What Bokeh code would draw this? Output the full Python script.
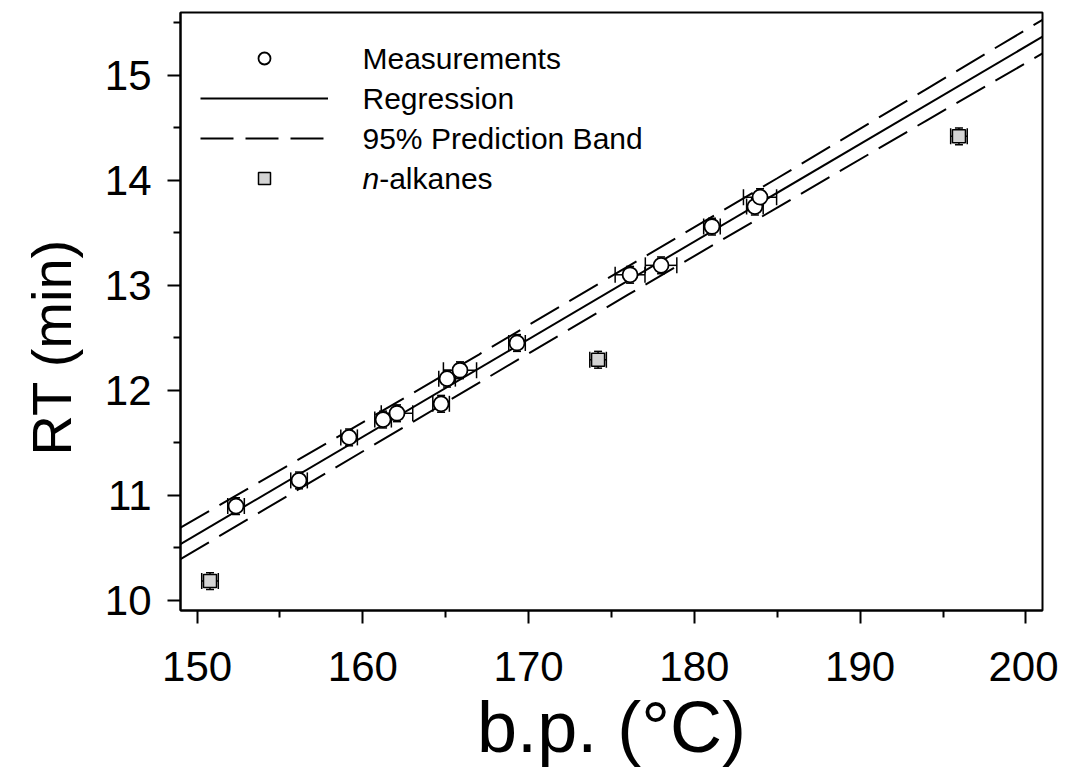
from bokeh.plotting import figure
from bokeh.models import (ColumnDataSource, Whisker, TeeHead, FixedTicker, Legend,
                          LegendItem, Label, Range1d, Title)
from bokeh.embed import file_html
from bokeh.resources import INLINE

# ---- data ----
meas_bp = [152.35, 156.15, 159.17, 161.22, 162.06, 164.72, 165.08, 165.86, 169.30,
           176.12, 177.99, 181.06, 183.65, 183.96]
meas_rt = [10.895, 11.14, 11.55, 11.72, 11.78, 11.87, 12.11, 12.19, 12.45,
           13.10, 13.19, 13.56, 13.75, 13.84]
meas_bp_err = [0.5, 0.5, 0.5, 0.5, 0.95, 0.5, 0.5, 1.0, 0.5, 0.9, 0.95, 0.5, 0.5, 1.0]
meas_rt_err = [0.08] * 14

alk_bp = [150.78, 174.19, 195.96]
alk_rt = [10.18, 12.29, 14.42]
alk_bp_err = [0.5, 0.5, 0.5]
alk_rt_err = [0.08, 0.08, 0.08]

reg_bp = [149.0, 201.0]
reg_rt = [10.533, 15.37]

band_bp = [149, 158, 167, 176, 185, 194, 201]
band_upper = [10.69, 11.51, 12.34, 13.18, 14.02, 14.87, 15.53]
band_lower = [10.39, 11.23, 12.07, 12.91, 13.74, 14.57, 15.21]

x_ticks = [150, 160, 170, 180, 190, 200]
x_minor = [155, 165, 175, 185, 195]
y_ticks = [10, 11, 12, 13, 14, 15]
y_minor = [10.5, 11.5, 12.5, 13.5, 14.5, 15.5]

FONT = "Liberation Sans"

p = figure(frame_width=862, frame_height=598,
           x_range=Range1d(149, 201), y_range=Range1d(9.9, 15.6),
           output_backend="svg", toolbar_location=None,
           min_border_left=180, min_border_right=16, min_border_top=12, min_border_bottom=160)
p.background_fill_color = "white"
p.border_fill_color = "white"
p.outline_line_color = "black"
p.outline_line_width = 2
p.xgrid.visible = False
p.ygrid.visible = False

for ax in (p.xaxis[0], p.yaxis[0]):
    ax.axis_line_width = 2
    ax.major_tick_line_width = 2
    ax.minor_tick_line_width = 2
    ax.major_tick_in = 0
    ax.major_tick_out = 13
    ax.minor_tick_in = 0
    ax.minor_tick_out = 7
    ax.major_label_text_font = FONT
    ax.major_label_text_font_size = "42px"
    ax.major_label_text_color = "black"
    ax.axis_label_text_font = FONT
    ax.axis_label_text_font_style = "normal"
    ax.axis_label_text_color = "black"

p.xaxis[0].ticker = FixedTicker(ticks=x_ticks, minor_ticks=x_minor)
p.yaxis[0].ticker = FixedTicker(ticks=y_ticks, minor_ticks=y_minor)
p.xaxis[0].axis_label = "b.p. (°C)"
p.xaxis[0].axis_label_text_font_size = "72px"
p.xaxis[0].major_label_standoff = 28
p.yaxis[0].major_label_standoff = 16
p.xaxis[0].axis_label_standoff = 3

# y-axis title (placed like the original: a bit below the frame centre)
p.add_layout(Title(text="RT (min)", align="left", offset=155, vertical_align="middle",
                   standoff=36, text_font=FONT, text_font_size="56px",
                   text_font_style="normal", text_color="black"), "left")

# band & regression
band_up_r = p.line(band_bp, band_upper, line_color="black", line_width=2, line_dash="33 12")
p.line(band_bp, band_lower, line_color="black", line_width=2, line_dash="33 12")
reg_r = p.line(reg_bp, reg_rt, line_color="black", line_width=2)

# measurements
msrc = ColumnDataSource(dict(
    x=meas_bp, y=meas_rt,
    xlo=[a - e for a, e in zip(meas_bp, meas_bp_err)],
    xhi=[a + e for a, e in zip(meas_bp, meas_bp_err)],
    ylo=[a - e for a, e in zip(meas_rt, meas_rt_err)],
    yhi=[a + e for a, e in zip(meas_rt, meas_rt_err)],
))
asrc = ColumnDataSource(dict(
    x=alk_bp, y=alk_rt,
    xlo=[a - e for a, e in zip(alk_bp, alk_bp_err)],
    xhi=[a + e for a, e in zip(alk_bp, alk_bp_err)],
    ylo=[a - e for a, e in zip(alk_rt, alk_rt_err)],
    yhi=[a + e for a, e in zip(alk_rt, alk_rt_err)],
))
for src in (msrc, asrc):
    p.add_layout(Whisker(source=src, base="x", lower="ylo", upper="yhi", dimension="height",
                         line_width=1.5, line_color="black",
                         upper_head=TeeHead(size=8, line_width=1.5),
                         lower_head=TeeHead(size=8, line_width=1.5)))
    p.add_layout(Whisker(source=src, base="y", lower="xlo", upper="xhi", dimension="width",
                         line_width=1.5, line_color="black",
                         upper_head=TeeHead(size=16, line_width=1.5),
                         lower_head=TeeHead(size=16, line_width=1.5)))

circ_r = p.scatter("x", "y", source=msrc, marker="circle", size=15,
                   fill_color="white", line_color="black", line_width=1.8)
sq_r = p.scatter("x", "y", source=asrc, marker="square", size=13,
                 fill_color="#d4d4d4", line_color="black", line_width=1.5)

# legend (glyphs via Legend, texts via Labels)
legend = Legend(items=[LegendItem(label="", renderers=[circ_r]),
                       LegendItem(label="", renderers=[reg_r]),
                       LegendItem(label="", renderers=[band_up_r]),
                       LegendItem(label="", renderers=[sq_r])],
                location=(10, 407), glyph_width=128, glyph_height=30, label_height=30,
                label_width=0, spacing=10, padding=10, margin=0, label_standoff=0,
                border_line_alpha=0, background_fill_alpha=0, label_text_font_size="8px")
p.add_layout(legend)

rows_y = [552, 512, 472, 432]
texts = ["Measurements", "Regression", "95% Prediction Band"]
for t, yy in zip(texts, rows_y[:3]):
    p.add_layout(Label(x=182, y=yy, x_units="screen", y_units="screen", text=t,
                       text_font=FONT, text_font_size="30px", text_baseline="middle",
                       text_color="black"))
p.add_layout(Label(x=182, y=rows_y[3], x_units="screen", y_units="screen", text="n",
                   text_font=FONT, text_font_size="30px", text_font_style="italic",
                   text_baseline="middle", text_color="black"))
p.add_layout(Label(x=198.7, y=rows_y[3], x_units="screen", y_units="screen", text="-alkanes",
                   text_font=FONT, text_font_size="30px", text_baseline="middle",
                   text_color="black"))

open("out.html", "w").write(file_html(p, INLINE))
